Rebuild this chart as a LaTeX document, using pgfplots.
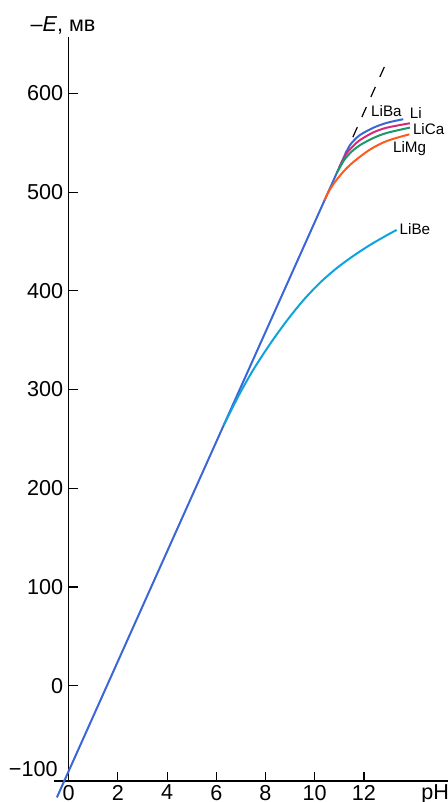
\documentclass[border=0pt]{standalone}
\usepackage{fontspec}
\setmainfont{Liberation Sans}
\usepackage{pgfplots}
\pgfplotsset{compat=1.18}
\definecolor{cblue}{HTML}{3B66D6}
\definecolor{ccyan}{HTML}{0FA3DD}
\definecolor{cmag}{HTML}{D42A78}
\definecolor{cgreen}{HTML}{1A9966}
\definecolor{corange}{HTML}{FF5A1E}
\begin{document}
\fontsize{10.8}{13}\selectfont
\begin{tikzpicture}
\useasboundingbox (-34.35pt,-10.5pt) rectangle (189.15pt,390.5pt);
\begin{axis}[
  at={(0,0)}, anchor=south west,
  x=12.3pt, y=0.4935pt,
  xmin=0, xmax=15.4, ymin=-96.6, ymax=657,
  axis lines*=left,
  axis line style={line width=0.6pt, black},
  tick align=inside, major tick length=4.5pt,
  tick style={line width=0.6pt, black},
  xtick={0,2,...,12}, ytick={0,100,...,600},
  ticklabel style={font=\fontsize{10.8}{13}\selectfont},
  xticklabel style={inner ysep=1.8pt},
  yticklabel style={inner xsep=2.6pt},
  /pgf/number format/assume math mode=true,
  clip=false,
]
\draw[line width=0.6pt, black] (axis cs:-0.6,-96.6) -- (axis cs:0,-96.6);
% main line
\addplot[cblue, line width=1pt] coordinates {(-0.48,-113.2) (11.3,541.8)};
% Li
\addplot[cblue, line width=1pt, smooth] coordinates {(11.25,539) (11.43,547.5) (11.6,552.5) (11.84,557.9) (12.38,565.2) (12.93,570.2) (13.6,573.9)};
% LiCa (magenta)
\addplot[cmag, line width=1pt, smooth] coordinates {(11.0,525.1) (11.3,539.3) (11.6,547.5) (11.84,552.8) (12.38,560.5) (12.93,565.3) (13.87,569.8)};
% green
\addplot[cgreen, line width=1pt, smooth] coordinates {(10.9,519.5) (11.2,532.5) (11.5,541) (11.84,547.6) (12.38,554.8) (12.93,560) (13.87,565.4)};
% orange
\addplot[corange, line width=1pt, smooth] coordinates {(10.4,491.7) (10.55,499.6) (10.8,509.5) (11.16,520.6) (11.57,530.5) (12.25,543.2) (12.93,551.8) (13.85,558.6)};
% LiBe
\addplot[ccyan, line width=1pt, smooth] coordinates {(6.3,263.8) (6.45,271.3) (6.96,296.2) (7.5,319.9) (8.18,346) (8.86,369.5) (9.54,390.5) (10.22,408.3) (10.89,422.9) (11.57,435.4) (12.25,446.5) (12.93,456.3) (13.33,461.7)};
% dashed extension
\addplot[black, line width=0.6pt, dash pattern=on 5.5pt off 5.5pt] coordinates {(11.55,555.7) (12.95,633.5)};
\node[anchor=west, inner sep=0pt, font=\fontsize{7.6}{9}\selectfont] at (axis cs:12.28,582) {LiBa};
\node[anchor=west, inner sep=0pt, font=\fontsize{7.6}{9}\selectfont] at (axis cs:13.85,580) {Li};
\node[anchor=west, inner sep=0pt, font=\fontsize{7.6}{9}\selectfont] at (axis cs:13.98,564) {LiCa};
\node[anchor=west, inner sep=0pt, font=\fontsize{7.6}{9}\selectfont] at (axis cs:13.17,544) {LiMg};
\node[anchor=west, inner sep=0pt, font=\fontsize{7.6}{9}\selectfont] at (axis cs:13.44,463) {LiBe};
\node[anchor=east, inner sep=0pt] at ([xshift=-5.35pt]axis cs:0,-84.4) {−100};
\node[anchor=north west, inner xsep=0pt, inner ysep=1.8pt] at (axis cs:14.32,-96.6) {pH};
\node[inner sep=0pt] at (axis cs:-0.23,669) {–\textit{E}, мв};
\end{axis}
\end{tikzpicture}
\end{document}
